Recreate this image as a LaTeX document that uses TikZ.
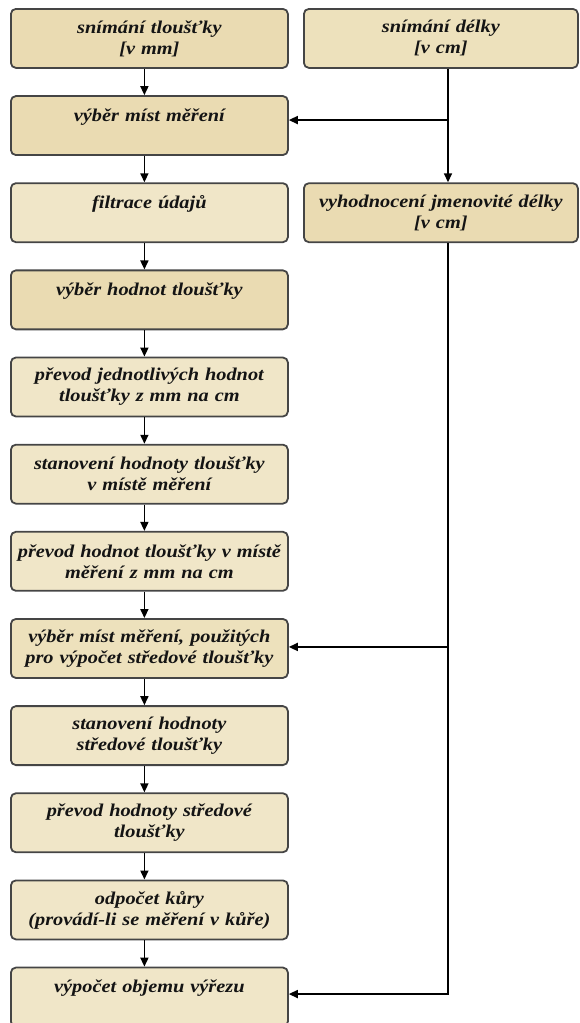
\documentclass[tikz,border=0pt]{standalone}
\usepackage{fontspec}
\setmainfont{Liberation Serif}[FakeStretch=1.13]
\usetikzlibrary{arrows.meta}
\definecolor{boxdark}{HTML}{EADBB2}
\definecolor{boxmid}{HTML}{EDE1BC}
\definecolor{boxlight}{HTML}{F0E6C8}
\definecolor{edgegray}{HTML}{454545}
\definecolor{inktext}{HTML}{141414}
\begin{document}
\begin{tikzpicture}[x=1pt,y=-1pt,
  stepbox/.style={draw=edgegray, line width=1.8pt, rounded corners=5pt, fill=boxlight,
    minimum width=277pt, minimum height=59pt, text width=277pt, align=center,
    font=\fontsize{18}{21}\selectfont\bfseries\itshape, text=inktext,
    anchor=north west, inner sep=0pt},
  rightbox/.style={stepbox, minimum width=274pt, text width=274pt},
  arr/.style={draw=black, line width=1.6pt, -{Triangle[length=9pt,width=8pt]}},
]
\useasboundingbox (0,0) rectangle (579,1023);
\clip (0,0) rectangle (579,1023);

% left column
\node[stepbox, fill=boxdark] (L1)  at (10,8)      {snímání tloušťky\\{[v mm]}};
\node[stepbox, fill=boxdark] (L2)  at (10,95.15)  {výběr míst měření\\\mbox{}};
\node[stepbox]               (L3)  at (10,182.3)  {filtrace údajů\\\mbox{}};
\node[stepbox, fill=boxdark] (L4)  at (10,269.45) {výběr hodnot tloušťky\\\mbox{}};
\node[stepbox]               (L5)  at (10,356.6)  {převod jednotlivých hodnot\\tloušťky z mm na cm};
\node[stepbox]               (L6)  at (10,443.75) {stanovení hodnoty tloušťky\\v místě měření};
\node[stepbox]               (L7)  at (10,530.9)  {převod hodnot tloušťky v místě\\měření z mm na cm};
\node[stepbox, fill=boxmid]  (L8)  at (10,618.05) {výběr míst měření, použitých\\pro výpočet středové tloušťky};
\node[stepbox]               (L9)  at (10,705.2)  {stanovení hodnoty\\středové tloušťky};
\node[stepbox]               (L10) at (10,792.35) {převod hodnoty středové\\tloušťky};
\node[stepbox]               (L11) at (10,879.5)  {odpočet kůry\\(provádí-li se měření v kůře)};
\node[stepbox]               (L12) at (10,966.65) {výpočet objemu výřezu\\\mbox{}};

% right column
\node[rightbox, fill=boxmid]  (R1) at (303,8)     {snímání délky\\{[v cm]}};
\node[rightbox, fill=boxdark] (R2) at (303,182.3) {vyhodnocení jmenovité délky\\{[v cm]}};

% left column arrows
\foreach \a/\b in {L1/L2,L2/L3,L3/L4,L4/L5,L5/L6,L6/L7,L7/L8,L8/L9,L9/L10,L10/L11,L11/L12}
  \draw[arr] ([xshift=-5pt]\a.south) -- ([xshift=-5pt]\b.north);

% right column connectors
\coordinate (vx) at (448,0);
\coordinate (t2) at ([yshift=5.5pt]L2.east);
\coordinate (t8) at ([yshift=1.5pt]L8.east);
\coordinate (t12) at ([yshift=3pt]L12.east);
\draw[arr] (R1.south -| vx) -- (R2.north -| vx);
\draw[arr] (t2 -| vx) -- (t2);
\draw[arr] (R2.south -| vx) |- (t12);
\draw[arr] (t8 -| vx) -- (t8);
\end{tikzpicture}
\end{document}
